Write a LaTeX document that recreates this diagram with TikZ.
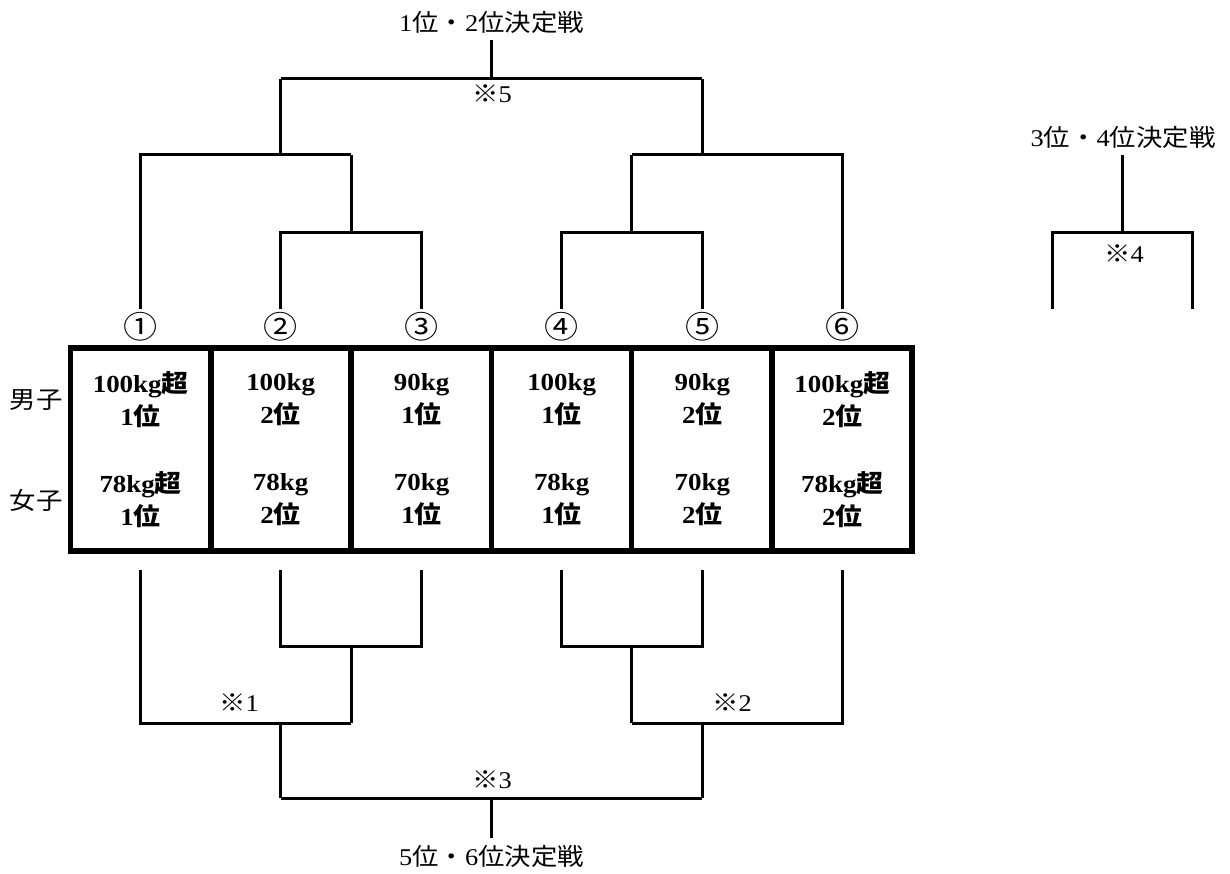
\documentclass[tikz,border=0pt]{standalone}
\usepackage{fontspec}
\setmainfont{Liberation Serif}[FakeStretch=1.1]
\newfontfamily\jp{Noto Sans CJK JP}[FakeStretch=1.1]
\newcommand{\J}[1]{{\jp #1}}
\begin{document}
\begin{tikzpicture}[x=1pt,y=-1pt,
  br/.style={line width=3pt, line join=miter},
  boxline/.style={line width=5.5pt},
  lab/.style={font=\fontsize{24}{28}\selectfont, inner sep=0pt},
  num/.style={font=\fontsize{31}{34}\selectfont, inner sep=0pt},
  cell/.style={font=\bfseries\fontsize{24.5}{33}\selectfont, align=center, inner sep=0pt}]
\fill[white] (0,0) rectangle (1230,874);
\useasboundingbox (0,0) rectangle (1230,874);
% column anchor points
\foreach \i/\x/\s in {1/140.7/①,2/280.7/②,3/421.7/③,4/561.7/④,5/702.3/⑤,6/842.3/⑥}{
  \coordinate (t\i) at (\x,309);
  \coordinate (b\i) at (\x,570);
  \node[num] (c\i) at (\x,327) {\J{\s}};
}
% box
\draw[boxline] (70.5,348) rectangle (912,551);
\foreach \x in {210.75,351,491.25,631.5,771.75}{
  \draw[boxline] (\x,348) -- (\x,551);
}
% side labels
\node[lab] (men) at (36,400) {\J{男子}};
\node[lab] (women) at (36,500) {\J{女子}};
% cells
\node[cell] (m1) at (140.7,400) {100kg\J{超}\\1\J{位}};
\node[cell] (w1) at (140.7,500) {78kg\J{超}\\1\J{位}};
\node[cell] (m2) at (280.7,400) {100kg\\2\J{位}};
\node[cell] (w2) at (280.7,500) {78kg\\2\J{位}};
\node[cell] (m3) at (421.7,400) {90kg\\1\J{位}};
\node[cell] (w3) at (421.7,500) {70kg\\1\J{位}};
\node[cell] (m4) at (561.7,400) {100kg\\1\J{位}};
\node[cell] (w4) at (561.7,500) {78kg\\1\J{位}};
\node[cell] (m5) at (702.3,400) {90kg\\2\J{位}};
\node[cell] (w5) at (702.3,500) {70kg\\2\J{位}};
\node[cell] (m6) at (842.3,400) {100kg\J{超}\\2\J{位}};
\node[cell] (w6) at (842.3,500) {78kg\J{超}\\2\J{位}};
% join points
\coordinate (ta) at (351,232.7);
\coordinate (tb) at (631.7,232.7);
\coordinate (tl) at (280.7,155);
\coordinate (tr) at (702.3,155);
\coordinate (tt) at (491.5,79);
\coordinate (ba) at (351,646);
\coordinate (bb) at (631.7,646);
\coordinate (bl) at (280.7,723);
\coordinate (brr) at (702.3,723);
\coordinate (bt) at (491.5,798);
% top bracket
\draw[br] (t2) |- (ta) -| (t3);
\draw[br] (ta) -- (351,155);
\draw[br] (t1) |- (351,155);
\draw[br] (tl) -- (280.7,79);
\draw[br] (t4) |- (tb) -| (t5);
\draw[br] (tb) -- (631.7,155);
\draw[br] (631.7,155) -| (t6);
\draw[br] (tr) -- (702.3,79);
\draw[br] (280.7,79) -- (702.3,79);
\node[lab] (final) at (491.5,22) {1\J{位・}2\J{位決定戦}};
\draw[br] (tt) -- (final.south |- 0,40);
\node[lab] (s5) at (492,94) {\J{※}5};
% bottom bracket
\draw[br] (b2) |- (ba) -| (b3);
\draw[br] (ba) -- (351,723);
\draw[br] (b1) |- (351,723);
\draw[br] (bl) -- (280.7,798);
\draw[br] (b4) |- (bb) -| (b5);
\draw[br] (bb) -- (631.7,723);
\draw[br] (631.7,723) -| (b6);
\draw[br] (brr) -- (702.3,798);
\draw[br] (280.7,798) -- (702.3,798);
\node[lab] (fifth) at (491.5,856) {5\J{位・}6\J{位決定戦}};
\draw[br] (bt) -- (491.5,838);
\node[lab] (s1) at (239,703) {\J{※}1};
\node[lab] (s2) at (732,703) {\J{※}2};
\node[lab] (s3) at (492,780) {\J{※}3};
% third place bracket
\node[lab] (third) at (1123,137) {3\J{位・}4\J{位決定戦}};
\coordinate (rt) at (1122.3,155);
\coordinate (rj) at (1122.3,232.7);
\draw[br] (rt) -- (rj);
\draw[br] (1052.3,309) |- (rj) -| (1192.7,309);
\node[lab] (s4) at (1124,254) {\J{※}4};
\end{tikzpicture}
\end{document}
